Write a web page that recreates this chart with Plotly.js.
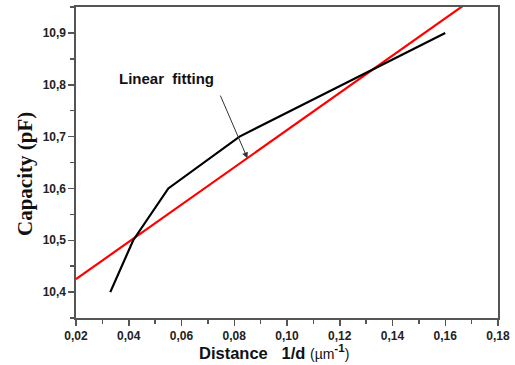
<!DOCTYPE html>
<html><head><meta charset="utf-8">
<script src="https://cdn.plot.ly/plotly-3.0.1.min.js"></script>
<style>body{margin:0;background:#fff}#plot{width:515px;height:365px}</style>
</head><body><div id="plot"></div>
<script>
const dataX = [0.033, 0.0417, 0.055, 0.082, 0.160];
const dataY = [10.40, 10.50, 10.60, 10.70, 10.90];
const fitX = [0.02, 0.18];
const fitY = [10.425, 11.00];
const xTicks = [0.02,0.04,0.06,0.08,0.10,0.12,0.14,0.16,0.18];
const yTicks = [10.4,10.5,10.6,10.7,10.8,10.9];

const traces = [
  {x: fitX, y: fitY, mode:'lines', line:{color:'#ff0000', width:2.2}, hoverinfo:'skip'},
  {x: dataX, y: dataY, mode:'lines', line:{color:'#000000', width:2.2}, hoverinfo:'skip'}
];
const axisCommon = {
  showgrid:false, zeroline:false, showline:true, linecolor:'#555', linewidth:1.6, mirror:true,
  ticks:'outside', ticklen:6, tickwidth:1.5, tickcolor:'#555',
  tickfont:{family:'Liberation Sans, Arial', size:12, color:'#222', weight:'bold'}
};
const layout = {
  width:515, height:365, separators:',.',
  margin:{l:76, r:17, t:7, b:47},
  paper_bgcolor:'#fff', plot_bgcolor:'#fff', showlegend:false,
  xaxis: Object.assign({}, axisCommon, {
    range:[0.02,0.18], tickvals:xTicks, ticktext:xTicks.map(v=>v.toFixed(2).replace('.',',')),
    minor:{ticks:'outside', dtick:0.01, ticklen:4, tickwidth:1.5, tickcolor:'#555'}
  }),
  yaxis: Object.assign({}, axisCommon, {
    range:[10.35,10.95], tickvals:yTicks, ticktext:yTicks.map(v=>v.toFixed(1).replace('.',',')),
    minor:{ticks:'outside', dtick:0.05, tick0:10.35, ticklen:4, tickwidth:1.5, tickcolor:'#555'}
  }),
  annotations:[
    {xref:'paper', yref:'paper', x:0, y:0.463, xshift:-51, textangle:-90, text:'Capacity (pF)', showarrow:false,
     xanchor:'center', yanchor:'middle',
     font:{family:'Liberation Serif, Times New Roman', size:21, color:'#111', weight:'bold'}},
    {xref:'paper', yref:'paper', x:0.287, y:0, yshift:-34, xanchor:'left', yanchor:'middle', showarrow:false,
     text:'Distance   1/d <span style="font-weight:normal;font-size:14px">(µm</span><sup>-1</sup><span style="font-weight:normal;font-size:14px">)</span>',
     font:{family:'Liberation Sans, Arial', size:16.5, color:'#111', weight:'bold'}},
    {x:0.0544, y:10.812, xref:'x', yref:'y', text:'Linear  fitting', showarrow:false,
     font:{family:'Liberation Sans, Arial', size:15, color:'#111', weight:'bold'}},
    {x:0.085, y:10.658, xref:'x', yref:'y', ax:0.0745, ay:10.782, axref:'x', ayref:'y',
     text:'', showarrow:true, arrowhead:2, arrowsize:1.2, arrowwidth:1, arrowcolor:'#333'}
  ]
};
Plotly.newPlot('plot', traces, layout, {staticPlot:true, displayModeBar:false});
</script></body></html>
